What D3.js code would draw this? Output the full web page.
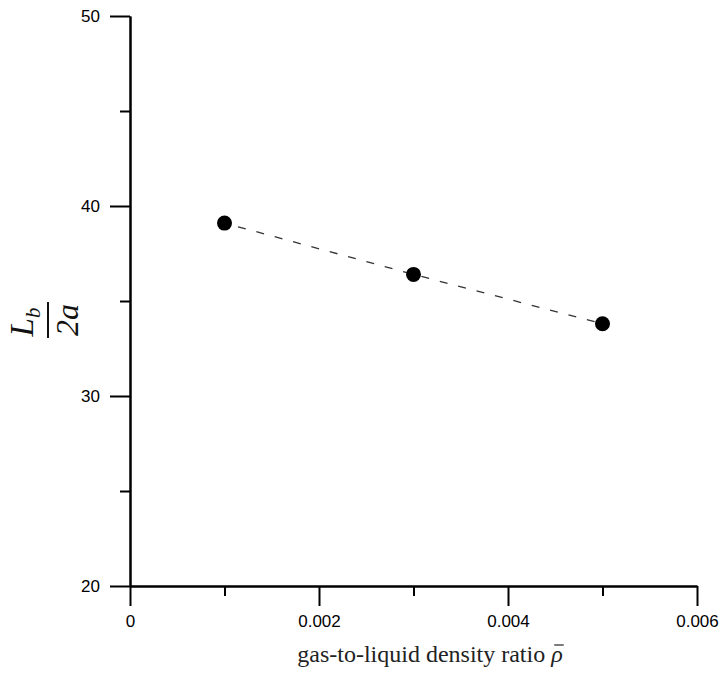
<!DOCTYPE html>
<html>
<head>
<meta charset="utf-8">
<script src="https://cdn.jsdelivr.net/npm/d3@7"></script>
<style>
  body { margin: 0; background: #fff; }
  .tick text { font-family: "Liberation Sans", Arial, sans-serif; }
</style>
</head>
<body>
<div id="chart"></div>
<script>
// values
var densityRatio = [0.001, 0.003, 0.005];
var bubbleLength = [39.1, 36.4, 33.8];
var xMajorTicks = [0, 0.002, 0.004, 0.006];
var xMinorTicks = [0.001, 0.003, 0.005];
var yMajorTicks = [20, 30, 40, 50];
var yMinorTicks = [25, 35, 45];

var W = 724, H = 673;
var margin = { top: 16, right: 27, bottom: 87, left: 130 };

var svg = d3.select("#chart")
  .append("svg")
  .attr("width", W)
  .attr("height", H);

var x = d3.scaleLinear()
  .domain([0, 0.006])
  .range([margin.left, W - margin.right]);

var y = d3.scaleLinear()
  .domain([20, 50])
  .range([H - margin.bottom, margin.top]);

// x axis
svg.append("g")
  .attr("transform", "translate(0," + (H - margin.bottom) + ")")
  .call(d3.axisBottom(x)
    .tickValues(xMajorTicks)
    .tickSize(20)
    .tickSizeOuter(0)
    .tickPadding(9)
    .tickFormat(function(d) { return d === 0 ? "0" : d3.format(".3f")(d); }));

svg.append("g")
  .attr("transform", "translate(0," + (H - margin.bottom) + ")")
  .call(d3.axisBottom(x).tickValues(xMinorTicks).tickSize(10).tickSizeOuter(0).tickFormat(""));

// y axis
svg.append("g")
  .attr("transform", "translate(" + margin.left + ",0)")
  .call(d3.axisLeft(y)
    .tickValues(yMajorTicks)
    .tickSize(20)
    .tickSizeOuter(0)
    .tickPadding(10));

svg.append("g")
  .attr("transform", "translate(" + margin.left + ",0)")
  .call(d3.axisLeft(y).tickValues(yMinorTicks).tickSize(10).tickSizeOuter(0).tickFormat(""));

svg.selectAll(".domain, .tick line")
  .attr("stroke", "#000")
  .attr("stroke-width", 2);

svg.selectAll(".tick text")
  .attr("fill", "#000")
  .style("font-size", "17px");

// data
var pts = densityRatio.map(function(d, i) { return [d, bubbleLength[i]]; });

svg.append("path")
  .datum(pts)
  .attr("fill", "none")
  .attr("stroke", "#333")
  .attr("stroke-width", 1.3)
  .attr("stroke-dasharray", "8,11")
  .attr("stroke-dashoffset", -14)
  .attr("d", d3.line()
    .x(function(d) { return x(d[0]); })
    .y(function(d) { return y(d[1]); }));

svg.selectAll("circle")
  .data(pts)
  .enter()
  .append("circle")
  .attr("cx", function(d) { return x(d[0]); })
  .attr("cy", function(d) { return y(d[1]); })
  .attr("r", 7.5)
  .attr("fill", "#000");

// x title: plain text, then italic rho with a bar drawn over it
var serif = "'Liberation Serif', 'Times New Roman', serif";
var xtitle = svg.append("g").attr("fill", "#222");
var xt = xtitle.append("text")
  .attr("y", 662)
  .style("font-family", serif)
  .style("font-size", "24px")
  .text("gas-to-liquid density ratio\u00A0");
var rho = xtitle.append("text")
  .attr("y", 662)
  .style("font-family", serif)
  .style("font-size", "24px")
  .style("font-style", "italic")
  .text("\u03C1");
var w1 = xt.node().getComputedTextLength();
var w2 = rho.node().getComputedTextLength();
var x0 = 430 - (w1 + w2) / 2;
xt.attr("x", x0);
rho.attr("x", x0 + w1);
xtitle.append("line")
  .attr("x1", x0 + w1 + 3).attr("x2", x0 + w1 + w2 + 1)
  .attr("y1", 645).attr("y2", 645)
  .attr("stroke", "#222")
  .attr("stroke-width", 1.2);

// y title as a fraction
var yt = svg.append("g")
  .attr("transform", "translate(48,320) rotate(-90)")
  .style("font-family", serif)
  .style("font-style", "italic")
  .attr("fill", "#111");

yt.append("line")
  .attr("x1", -18).attr("x2", 18)
  .attr("y1", 0).attr("y2", 0)
  .attr("stroke", "#111")
  .attr("stroke-width", 2);

var num = yt.append("text")
  .attr("x", -2)
  .attr("y", -15)
  .attr("text-anchor", "middle")
  .style("font-size", "33px");
num.append("tspan").text("L");
num.append("tspan").attr("dy", 7).style("font-size", "21px").text("b");

yt.append("text")
  .attr("x", 0)
  .attr("y", 30)
  .attr("text-anchor", "middle")
  .style("font-size", "32px")
  .text("2a");
</script>
</body>
</html>
